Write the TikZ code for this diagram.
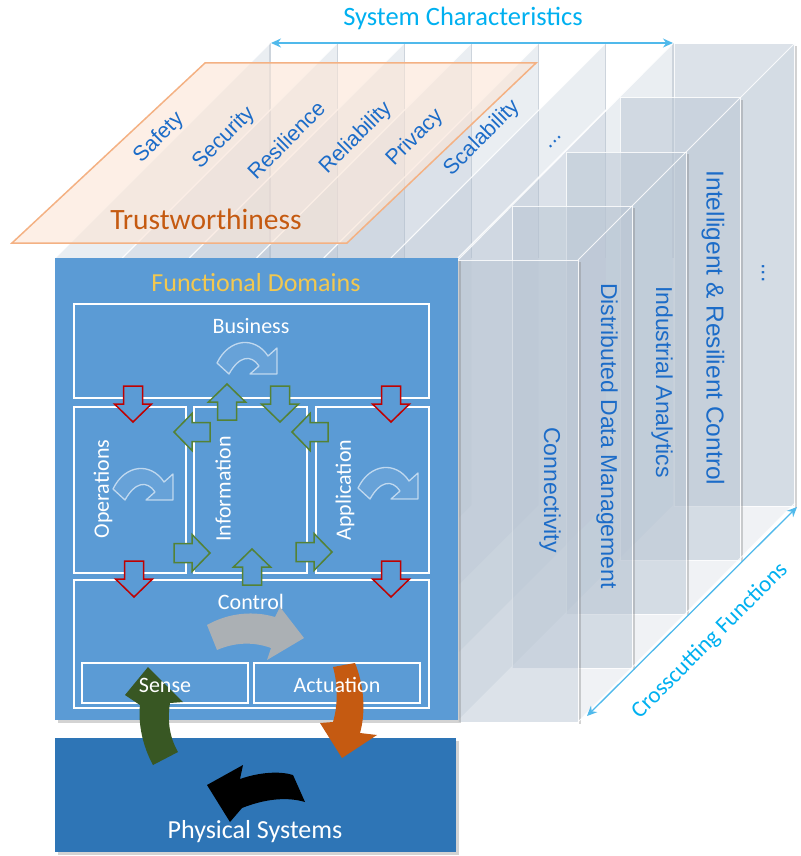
\documentclass[tikz,border=0pt]{standalone}
\usepackage{fontspec}
\setmainfont{Carlito}
\newfontfamily\arialf{Liberation Sans}
\usetikzlibrary{shadows,arrows.meta}
\definecolor{fdblue}{RGB}{91,155,213}
\definecolor{psblue}{RGB}{46,117,182}
\definecolor{ttlblue}{RGB}{0,176,240}
\definecolor{arrblue}{RGB}{80,185,235}
\definecolor{lblblue}{RGB}{28,108,200}
\definecolor{golden}{RGB}{242,200,80}
\definecolor{trusto}{RGB}{197,90,17}
\definecolor{trustline}{RGB}{244,177,131}
\definecolor{trustfill}{RGB}{251,229,214}
\definecolor{redar}{RGB}{192,0,0}
\definecolor{greenar}{RGB}{84,130,53}
\definecolor{dkgreen}{RGB}{56,87,35}
\definecolor{orangear}{RGB}{197,90,17}
\definecolor{panelfill}{RGB}{185,197,211}
\definecolor{planefill}{RGB}{178,191,207}
\definecolor{edgegray}{RGB}{205,212,220}
\tikzset{
  wbox/.style={draw=white, line width=1.8pt, inner sep=0pt, outer sep=0pt, anchor=north west},
  wtext/.style={text=white, font=\fontsize{22}{26}\selectfont, inner sep=0pt},
  chartext/.style={text=lblblue, font=\arialf\fontsize{21.5}{24}\selectfont, inner sep=0pt, rotate=45},
  cftext/.style={text=lblblue, font=\arialf\fontsize{23}{26}\selectfont, inner sep=0pt, rotate=-90},
  redblk/.style={draw=redar, fill=fdblue, line width=1.5pt, line join=miter},
  grnblk/.style={draw=greenar, fill=fdblue, line width=1.5pt, line join=miter},
  curvicon/.style={draw=white, draw opacity=0.6, fill=white, fill opacity=0.08, line width=1.3pt, line join=round},
  blk/.pic={\path[pic actions] (-9.5,-18) -- (9.5,-18) -- (9.5,0) -- (18.5,0) -- (0,18) -- (-18.5,0) -- (-9.5,0) -- cycle;},
  curv/.pic={\path[pic actions] (0,21) .. controls (12,-4) and (38,-6) .. (51,14) -- (60,6) -- (60,32) -- (33,32) -- (42,24) .. controls (34,12) and (22,14) .. (12,32) -- cycle;}
}
\begin{document}
\begin{tikzpicture}[x=1pt,y=-1pt]
\useasboundingbox (0,0) rectangle (800,856);

% ---------- system characteristic planes ----------
\foreach \i in {0,...,6} {
  \pgfmathsetmacro\xa{55+67.17*\i}
  \pgfmathsetmacro\xb{\xa+215}
  \fill[planefill, opacity=0.27] (\xa,720) -- (\xa,258) -- (\xb,43) -- (\xb,505) -- cycle;
  \draw[edgegray, line width=1.2pt] (\xb,43) -- (\xb,258);
  \draw[white, line width=1.2pt, opacity=0.9] (\xa,258) -- (\xb,43);
}
% side face of the crosscutting block
\fill[planefill, opacity=0.2] (578,260) -- (795,43) -- (795,503) -- (578,722) -- cycle;

% ---------- crosscutting panels ----------
\foreach \k in {4,3,2,1,0} {
  \pgfmathsetmacro\px{458+54*\k}
  \pgfmathsetmacro\py{260-54*\k}
  \fill[panelfill, opacity=0.5] (\px,\py) rectangle ++(120,462);
  \draw[gray, opacity=0.35, line width=2pt] (\px+121.5,\py+2) -- ++(0,462);
  \draw[white, opacity=0.85, line width=1pt] (\px,\py) rectangle ++(120,462);
}
\draw[white, opacity=0.85, line width=1pt] (458,260) -- (673,43);
\draw[white, opacity=0.85, line width=1pt] (578,260) -- (795,43);
\draw[white, opacity=0.85, line width=1pt] (578,722) -- (795,503);

\node[cftext] (conn) at (550,490) {Connectivity};
\node[cftext] (ddm) at (607,436) {Distributed Data Management};
\node[cftext] (ia) at (662,382) {Industrial Analytics};
\node[cftext, font=\arialf\fontsize{24.5}{28}\selectfont] (irc) at (713,328) {Intelligent \& Resilient Control};
\node[cftext] (cfdots) at (763,273) {...};

% ---------- trustworthiness ----------
\filldraw[draw=trustline, fill=trustfill, fill opacity=0.6, line width=1.5pt] (205,63) -- (536,63) -- (347,243) -- (12,243) -- cycle;
\node[text=trusto, font=\fontsize{29.5}{34}\selectfont, inner sep=0pt] (trust) at (206,219) {Trustworthiness};
\node[chartext] (safety) at (159,138) {Safety};
\node[chartext] (security) at (224,138) {Security};
\node[chartext] (resil) at (286,140) {Resilience};
\node[chartext] (relia) at (356,138) {Reliability};
\node[chartext] (priv) at (415,138) {Privacy};
\node[chartext] (scal) at (482,138) {Scalability};
\node[chartext] (chdots) at (555,142) {...};

% ---------- system characteristics arrow ----------
\coordinate (scL) at (271,43);
\coordinate (scR) at (673,43);
\draw[arrblue, line width=1.3pt, {Stealth[length=10pt,width=9pt]}-{Stealth[length=10pt,width=9pt]}] (scL) -- (scR);
\node[text=ttlblue, font=\fontsize{26.5}{30}\selectfont, inner sep=0pt] (sctitle) at (463,18) {System Characteristics};

% ---------- functional domains ----------
\node[fill=fdblue, minimum width=403pt, minimum height=462pt, inner sep=0pt, outer sep=0pt, anchor=north west,
      drop shadow={opacity=0.35, shadow xshift=3pt, shadow yshift=-3pt}] (fd) at (55,258) {};
\node[text=golden, font=\fontsize{26}{30}\selectfont, inner sep=0pt] (fdtitle) at (256,283) {Functional Domains};

\node[wbox, minimum width=355pt, minimum height=94pt] (business) at (74,304) {};
\node[wbox, minimum width=112pt, minimum height=166pt] (operations) at (74,407) {};
\node[wbox, minimum width=113pt, minimum height=166pt] (information) at (194,407) {};
\node[wbox, minimum width=113pt, minimum height=166pt] (application) at (316,407) {};
\node[wbox, minimum width=355pt, minimum height=128pt] (control) at (74,580) {};
\node[wbox, minimum width=166pt, minimum height=40pt] (sense) at (82,663) {};
\node[wbox, minimum width=166pt, minimum height=40pt] (actuation) at (254,663) {};

\node[wtext] (tbus) at (251,326) {Business};
\node[wtext, rotate=90] (tops) at (103,489) {Operations};
\node[wtext, rotate=90] (tinf) at (223,489) {Information};
\node[wtext, rotate=90] (tapp) at (345,490) {Application};
\node[wtext] (tctl) at (251,602) {Control};

\pic[curvicon] at (217,342) {curv};
\pic[curvicon] at (113,468) {curv};
\pic[curvicon] at (358,467) {curv};

% red block arrows
\pic[redblk] at (133,404) {blk};
\pic[redblk] at (391,404) {blk};
\pic[redblk] at (134,579) {blk};
\pic[redblk] at (391,579) {blk};
% green block arrows
\pic[grnblk, rotate=180] at (227,402) {blk};
\pic[grnblk] at (280,404) {blk};
\pic[grnblk, rotate=-90] at (192,432) {blk};
\pic[grnblk, rotate=-90] at (310,432) {blk};
\pic[grnblk, rotate=90] at (192,553) {blk};
\pic[grnblk, rotate=90] at (314,552) {blk};
\pic[grnblk, rotate=180] at (252,567) {blk};

% gray control arrow
\fill[fill={rgb,255:red,178;green,178;blue,178}, opacity=0.92] (207,625) .. controls (230,612) and (255,611) .. (275,617) -- (280,607) -- (304,638) -- (267,660) -- (271,648) .. controls (252,641) and (233,643) .. (217,650) -- cycle;

% ---------- physical systems ----------
\node[fill=psblue, minimum width=401pt, minimum height=114pt, inner sep=0pt, outer sep=0pt, anchor=north west,
      drop shadow={opacity=0.35, shadow xshift=3pt, shadow yshift=-3pt}] (phys) at (55,738) {};
\node[text=white, font=\fontsize{26}{30}\selectfont, inner sep=0pt] (tphys) at (255,832) {Physical Systems};

% loop arrows
\fill[dkgreen] (148,667) -- (183,702) -- (170,703) .. controls (167,722) and (170,738) .. (178,752) -- (153,765) .. controls (142,745) and (138,722) .. (140,705) -- (125,695) -- cycle;
\fill[orangear] (333,667) .. controls (338,685) and (338,705) .. (333,722) -- (320,723) -- (342,758) -- (377,735) -- (360,733) .. controls (366,712) and (364,685) .. (355,663) -- cycle;
\fill[black] (207,785) -- (243,765) -- (240,779) .. controls (260,772) and (280,771) .. (293,775) -- (305,802) .. controls (285,796) and (262,800) .. (242,808) -- (230,822) -- cycle;

\node[wtext] (tsen) at (165,685) {Sense};
\node[wtext] (tact) at (337,685) {Actuation};

% ---------- crosscutting arrow ----------
\coordinate (ccA) at (587,716);
\coordinate (ccB) at (797,507);
\draw[arrblue, line width=1.3pt, {Stealth[length=10pt,width=9pt]}-{Stealth[length=10pt,width=9pt]}] (ccA) -- (ccB);
\node[text=ttlblue, font=\fontsize{23}{27}\selectfont, inner sep=0pt, rotate=45] (cctitle) at (710,641) {Crosscutting Functions};
\end{tikzpicture}
\end{document}
